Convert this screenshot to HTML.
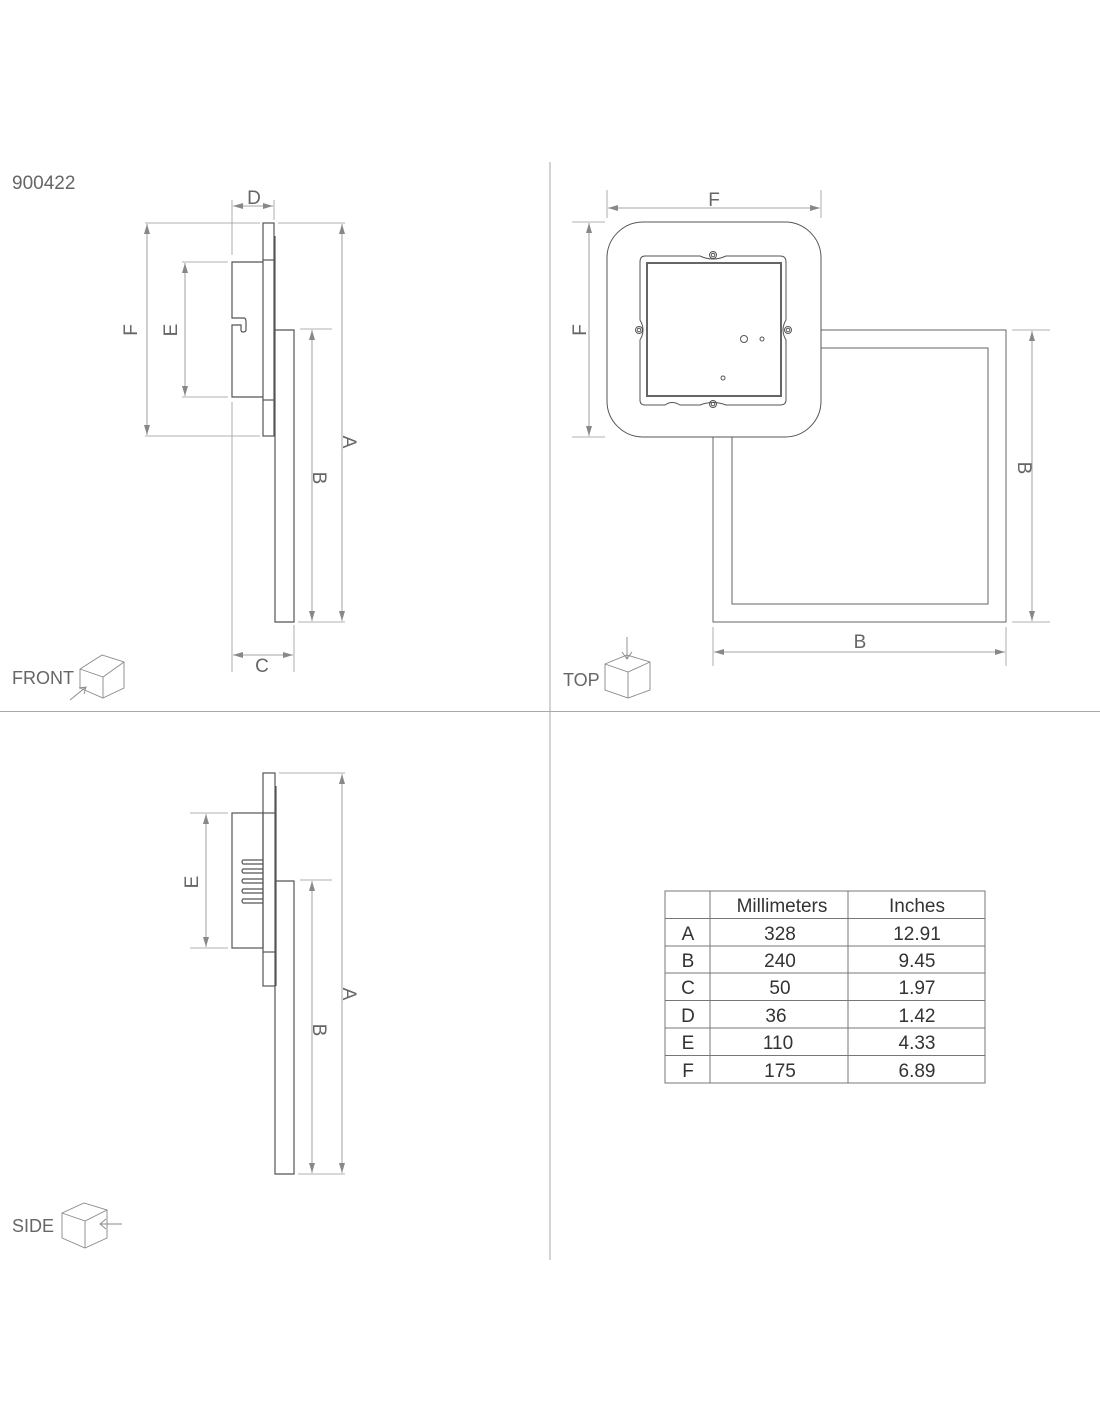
<!DOCTYPE html>
<html><head><meta charset="utf-8"><style>
body{margin:0;background:#fff}
svg{display:block}
text{font-family:"Liberation Sans",sans-serif;fill:#666}
</style></head><body>
<svg width="1100" height="1422" viewBox="0 0 1100 1422" xmlns="http://www.w3.org/2000/svg">
<defs>
<marker id="a" viewBox="0 0 10 6" refX="10" refY="3" markerWidth="10" markerHeight="6" markerUnits="userSpaceOnUse" orient="auto-start-reverse"><path d="M0,0 L10,3 L0,6 z" fill="#888"/></marker>
</defs>
<g stroke="#aaa" stroke-width="1" fill="none">
<line x1="550" y1="162" x2="550" y2="1260"/>
<line x1="0" y1="711.5" x2="1100" y2="711.5"/>
</g>
<text x="12" y="189" font-size="19">900422</text>

<!-- FRONT VIEW -->
<g stroke="#555" stroke-width="1.2" fill="none">
<rect x="263" y="223" width="11" height="213"/>
<line x1="263" y1="260" x2="274" y2="260"/>
<line x1="263" y1="400" x2="274" y2="400"/>
<line x1="275" y1="236" x2="275" y2="436"/>
<path d="M263,262 H232 V318 H244 Q246,318 246,322 V330 Q246,332 243,332 Q241,332 241,330 V325 H232 V397 H263"/>
<path d="M275,330 H294 V622 H275 V436"/>
</g>
<g stroke="#999" stroke-width="0.8" fill="none">
<line x1="232" y1="200" x2="232" y2="255"/><line x1="232" y1="402" x2="232" y2="672"/>
<line x1="274" y1="200" x2="274" y2="220"/>
<line x1="294" y1="625" x2="294" y2="672"/>
<line x1="145" y1="223" x2="260" y2="223"/><line x1="145" y1="436" x2="260" y2="436"/>
<line x1="182" y1="262" x2="228" y2="262"/><line x1="182" y1="397" x2="228" y2="397"/>
<line x1="278" y1="223" x2="345" y2="223"/><line x1="298" y1="622" x2="345" y2="622"/>
<line x1="300" y1="329" x2="332" y2="329"/>
</g>
<g stroke="#888" stroke-width="0.8" marker-start="url(#a)" marker-end="url(#a)">
<line x1="233" y1="206" x2="273" y2="206"/>
<line x1="147" y1="224" x2="147" y2="435"/>
<line x1="185" y1="263" x2="185" y2="396"/>
<line x1="342" y1="224" x2="342" y2="621"/>
<line x1="312" y1="330" x2="312" y2="621"/>
<line x1="233" y1="655" x2="293" y2="655"/>
</g>
<text x="254" y="204" font-size="19" text-anchor="middle">D</text>
<text x="262" y="672" font-size="19" text-anchor="middle">C</text>
<text transform="translate(137,330) rotate(-90)" font-size="19" text-anchor="middle">F</text>
<text transform="translate(177,330) rotate(-90)" font-size="19" text-anchor="middle">E</text>
<text transform="translate(343,442) rotate(90)" font-size="19" text-anchor="middle">A</text>
<text transform="translate(313,478) rotate(90)" font-size="19" text-anchor="middle">B</text>
<text x="12" y="684" font-size="18">FRONT</text>
<g stroke="#888" stroke-width="0.9" fill="none">
<path d="M80,669 L102,655 L124,662 L124,688 L103,698 L80,688 Z M80,669 L103,677 L124,662 M103,677 L103,698"/>
<path d="M70,700 L86,687 M79,688 L86,687 L84,694"/>
</g>

<!-- TOP VIEW -->
<g stroke="#666" stroke-width="1" fill="none">
<rect x="713" y="330" width="293" height="292"/>
<rect x="732" y="348" width="256" height="256"/>
</g>
<rect x="607" y="222" width="214" height="215" rx="36" fill="#fff" stroke="#555" stroke-width="1"/>
<g stroke="#555" stroke-width="1" fill="none">
<path d="M645,256 H700 Q713,262 726,256 H780 Q786,256 786,262 V320 Q780,330 786,340 V400 Q786,405 780,405 H726 Q713,400 700,405 H680 Q672,400 665,405 H645 Q640,405 640,400 V340 Q646,330 640,320 V262 Q640,256 645,256 Z"/>
<rect x="647" y="263" width="134" height="133" stroke-width="2" stroke="#666"/>
<circle cx="713" cy="255" r="3.5"/><circle cx="713" cy="255" r="1.8"/>
<circle cx="713" cy="404" r="3.5"/><circle cx="713" cy="404" r="1.8"/>
<circle cx="639" cy="330" r="3.5"/><circle cx="639" cy="330" r="1.8"/>
<circle cx="788" cy="330" r="3.5"/><circle cx="788" cy="330" r="1.8"/>
<circle cx="744" cy="339" r="3.5"/><circle cx="762" cy="339" r="2"/><circle cx="723" cy="378" r="2"/>
</g>
<g stroke="#999" stroke-width="0.8" fill="none">
<line x1="607" y1="190" x2="607" y2="218"/><line x1="821" y1="190" x2="821" y2="218"/>
<line x1="572" y1="222" x2="605" y2="222"/><line x1="572" y1="437" x2="605" y2="437"/>
<line x1="1012" y1="330" x2="1050" y2="330"/><line x1="1012" y1="622" x2="1050" y2="622"/>
<line x1="713" y1="627" x2="713" y2="666"/><line x1="1006" y1="627" x2="1006" y2="666"/>
</g>
<g stroke="#888" stroke-width="0.8" marker-start="url(#a)" marker-end="url(#a)">
<line x1="608" y1="208" x2="820" y2="208"/>
<line x1="589" y1="223" x2="589" y2="436"/>
<line x1="1032" y1="331" x2="1032" y2="621"/>
<line x1="714" y1="652" x2="1005" y2="652"/>
</g>
<text x="714" y="206" font-size="19" text-anchor="middle">F</text>
<text transform="translate(586,330) rotate(-90)" font-size="19" text-anchor="middle">F</text>
<text transform="translate(1018,468) rotate(90)" font-size="19" text-anchor="middle">B</text>
<text x="860" y="648" font-size="19" text-anchor="middle">B</text>
<text x="563" y="686" font-size="18">TOP</text>
<g stroke="#888" stroke-width="0.9" fill="none">
<path d="M605,664 L627,655 L650,662 L650,690 L628,698 L605,690 Z M605,664 L628,672 L650,662 M628,672 L628,698"/>
<path d="M627,637 L627,659 M622,652 L627,659 L632,652"/>
</g>

<!-- SIDE VIEW -->
<g stroke="#555" stroke-width="1.2" fill="none">
<rect x="263" y="773" width="12" height="213"/>
<line x1="263" y1="813" x2="275" y2="813"/>
<line x1="263" y1="952" x2="275" y2="952"/>
<line x1="276" y1="786" x2="276" y2="986"/>
<rect x="232" y="813" width="31" height="135"/>
<path d="M263,860 H243 Q241,862 243,864 H263 M263,869 H243 Q241,871 243,873 H263 M263,879 H243 Q241,881 243,883 H263 M263,889 H243 Q241,891 243,893 H263 M263,899 H243 Q241,901 243,903 H263"/>
<path d="M276,881 H294 V1174 H275 V986"/>
</g>
<g stroke="#999" stroke-width="0.8" fill="none">
<line x1="190" y1="813" x2="228" y2="813"/><line x1="190" y1="948" x2="228" y2="948"/>
<line x1="279" y1="773" x2="345" y2="773"/><line x1="298" y1="1174" x2="345" y2="1174"/>
<line x1="300" y1="880" x2="332" y2="880"/>
</g>
<g stroke="#888" stroke-width="0.8" marker-start="url(#a)" marker-end="url(#a)">
<line x1="206" y1="814" x2="206" y2="947"/>
<line x1="342" y1="774" x2="342" y2="1173"/>
<line x1="312" y1="881" x2="312" y2="1173"/>
</g>
<text transform="translate(198,882) rotate(-90)" font-size="19" text-anchor="middle">E</text>
<text transform="translate(343,994) rotate(90)" font-size="19" text-anchor="middle">A</text>
<text transform="translate(313,1030) rotate(90)" font-size="19" text-anchor="middle">B</text>
<text x="12" y="1232" font-size="18">SIDE</text>
<g stroke="#888" stroke-width="0.9" fill="none">
<path d="M62,1213 L84,1203 L107,1210 L107,1238 L85,1248 L62,1238 Z M62,1213 L85,1221 L107,1210 M85,1221 L85,1248"/>
<path d="M100,1224 L122,1224 M106,1219 L100,1224 L106,1229"/>
</g>

<!-- TABLE -->
<g stroke="#777" stroke-width="1" fill="none">
<rect x="665" y="891" width="320" height="192"/>
<line x1="710" y1="891" x2="710" y2="1083"/>
<line x1="848" y1="891" x2="848" y2="1083"/>
<line x1="665" y1="918.5" x2="985" y2="918.5"/>
<line x1="665" y1="946" x2="985" y2="946"/>
<line x1="665" y1="973" x2="985" y2="973"/>
<line x1="665" y1="1000.5" x2="985" y2="1000.5"/>
<line x1="665" y1="1028" x2="985" y2="1028"/>
<line x1="665" y1="1055.5" x2="985" y2="1055.5"/>
</g>
<g font-size="19" text-anchor="middle">
<text x="782" y="912" style="fill:#333">Millimeters</text><text x="917" y="912" style="fill:#333">Inches</text>
<text x="688" y="940" style="fill:#333">A</text><text x="780" y="940" style="fill:#333">328</text><text x="917" y="940" style="fill:#333">12.91</text>
<text x="688" y="967" style="fill:#333">B</text><text x="780" y="967" style="fill:#333">240</text><text x="917" y="967" style="fill:#333">9.45</text>
<text x="688" y="994" style="fill:#333">C</text><text x="780" y="994" style="fill:#333">50</text><text x="917" y="994" style="fill:#333">1.97</text>
<text x="688" y="1022" style="fill:#333">D</text><text x="776" y="1022" style="fill:#333">36</text><text x="917" y="1022" style="fill:#333">1.42</text>
<text x="688" y="1049" style="fill:#333">E</text><text x="778" y="1049" style="fill:#333">110</text><text x="917" y="1049" style="fill:#333">4.33</text>
<text x="688" y="1077" style="fill:#333">F</text><text x="780" y="1077" style="fill:#333">175</text><text x="917" y="1077" style="fill:#333">6.89</text>
</g>
</svg>
</body></html>
